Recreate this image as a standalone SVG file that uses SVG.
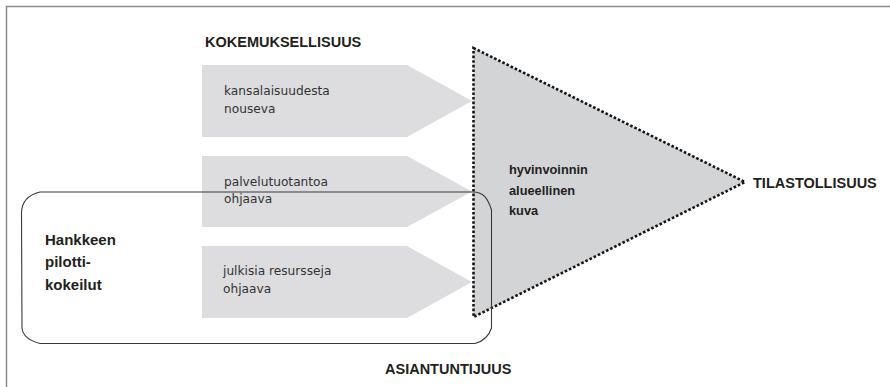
<svg xmlns="http://www.w3.org/2000/svg" width="890" height="387" viewBox="0 0 890 387">
  <style>
    .frame { fill: none; stroke: #8a8a8a; stroke-width: 1.5; }
    .arrow { fill: #dddddf; stroke: none; }
    .tri { fill: #d3d4d6; stroke: #151515; stroke-width: 2.6; stroke-dasharray: 2.6 2; stroke-linejoin: miter; }
    .pilot { fill: none; stroke: #3a3a3a; stroke-width: 1.1; }
    .head { font-family: "Liberation Sans", Arial, sans-serif; font-weight: bold; font-size: 14.5px; fill: #231f20; }
    .bold { font-family: "Liberation Sans", Arial, sans-serif; font-weight: bold; fill: #231f20; }
    .small { font-family: "DejaVu Sans", "Liberation Sans", sans-serif; font-size: 12.2px; fill: #333333; }
  </style>
  <rect x="0" y="0" width="890" height="387" fill="#ffffff"/>
  <g id="frame">
    <path class="frame" d="M 6.5 387 L 6.5 6.5 L 890 6.5"/>
  </g>
  <g id="kokemuksellisuus">
    <text class="head" x="205" y="47">KOKEMUKSELLISUUS</text>
  </g>
  <g id="arrow-kansalaisuudesta">
    <path class="arrow" d="M 202 65 L 407 65 L 472 101 L 407 137 L 202 137 Z"/>
    <text class="small" x="224" y="95">kansalaisuudesta</text>
    <text class="small" x="224" y="113.3">nouseva</text>
  </g>
  <g id="arrow-palvelutuotantoa">
    <path class="arrow" d="M 202 156 L 407 156 L 472 191.5 L 407 227 L 202 227 Z"/>
    <text class="small" x="224" y="186">palvelutuotantoa</text>
    <text class="small" x="224" y="203.3">ohjaava</text>
  </g>
  <g id="arrow-julkisia">
    <path class="arrow" d="M 202 246 L 407 246 L 472 282 L 407 318 L 202 318 Z"/>
    <text class="small" x="223" y="275">julkisia resursseja</text>
    <text class="small" x="223" y="293.3">ohjaava</text>
  </g>
  <g id="hyvinvointi">
    <path class="tri" d="M 473.5 48 L 745 182 L 473.5 317 Z"/>
    <text class="bold" font-size="12.8" x="509" y="174">hyvinvoinnin</text>
    <text class="bold" font-size="12.8" x="509" y="194.5">alueellinen</text>
    <text class="bold" font-size="12.8" x="509" y="215">kuva</text>
  </g>
  <g id="pilotit">
    <path class="pilot" d="M 40 192 L 473 192 C 484 192 488 199 491.5 210 L 491.5 328 C 489 336 484 341 475 343.5 L 40 343.5 C 30 341 23 337 22 328 L 21.5 212 C 22 202 28 195 40 192 Z"/>
    <text class="bold" font-size="15" x="45" y="245">Hankkeen</text>
    <text class="bold" font-size="15" x="45" y="267.3">pilotti-</text>
    <text class="bold" font-size="15" x="45" y="290">kokeilut</text>
  </g>
  <g id="tilastollisuus">
    <text class="head" x="753" y="188">TILASTOLLISUUS</text>
  </g>
  <g id="asiantuntijuus">
    <text class="head" x="385" y="374">ASIANTUNTIJUUS</text>
  </g>
  <g id="connectors"></g>
</svg>
